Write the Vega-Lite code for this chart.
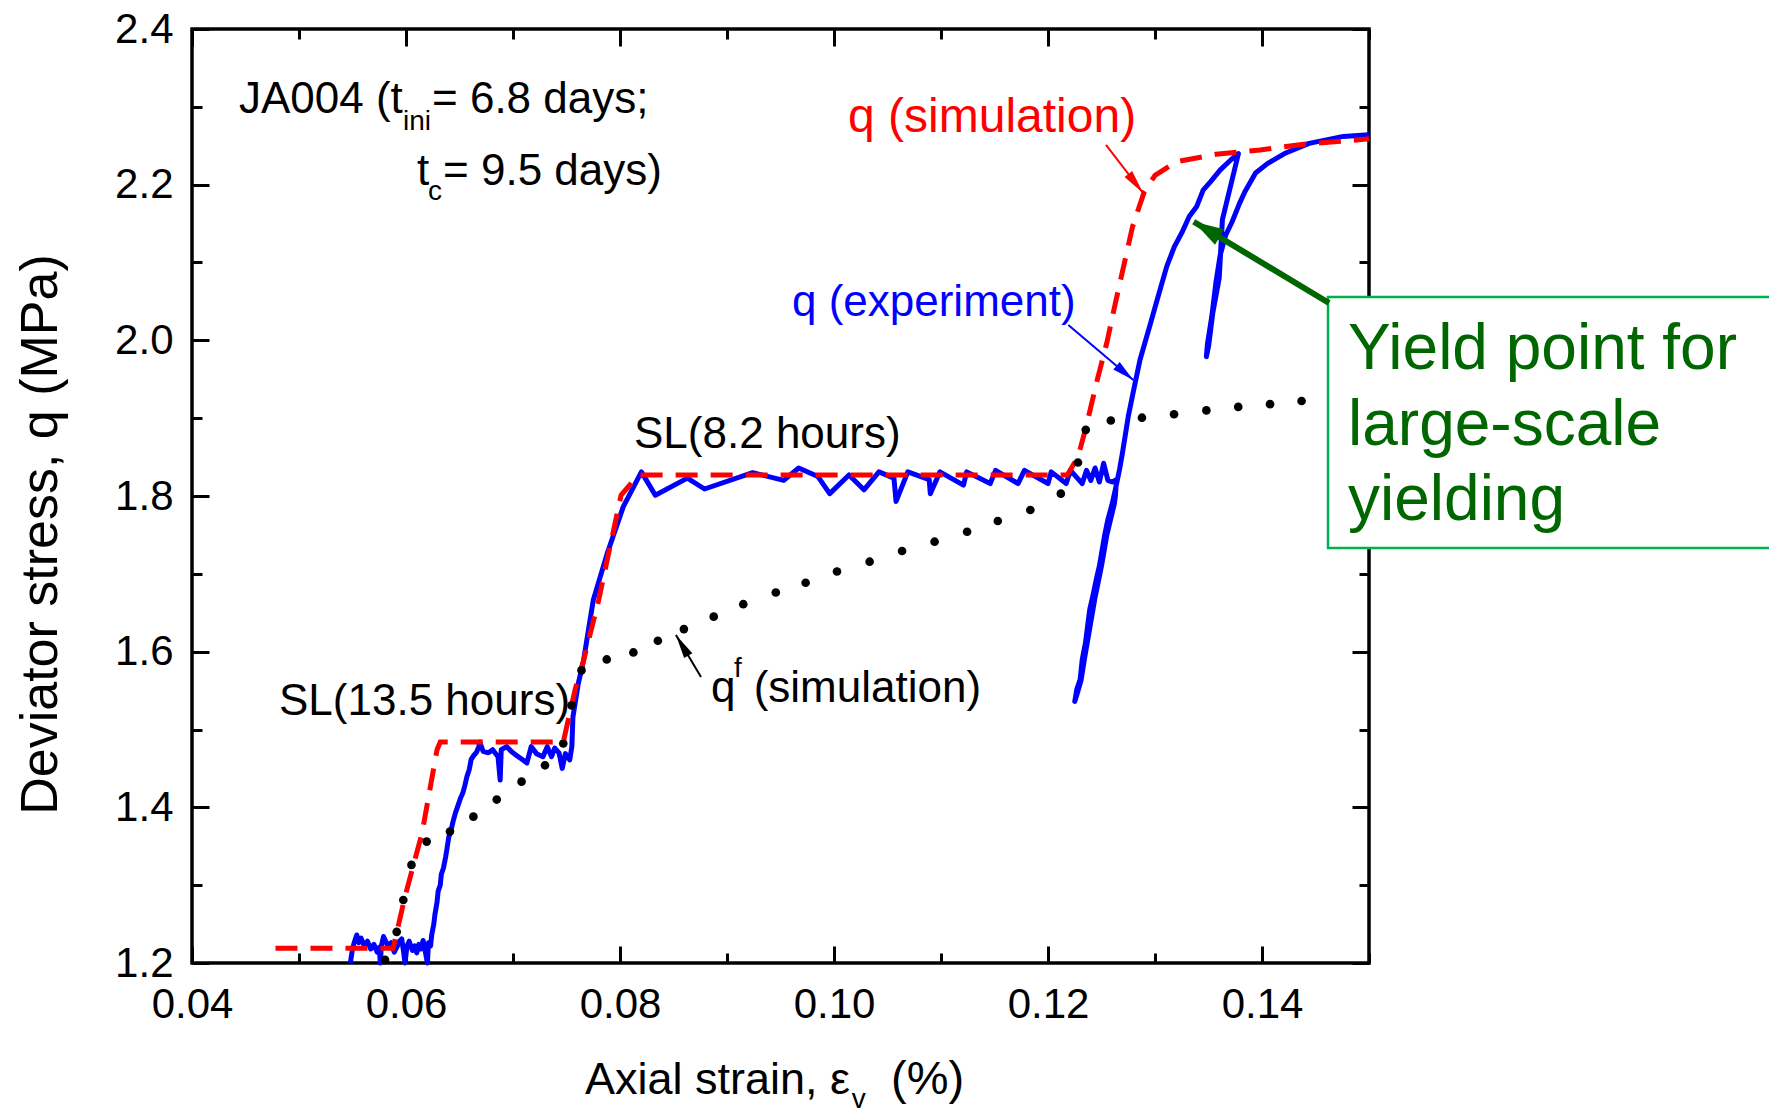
{
  "$schema": "https://vega.github.io/schema/vega-lite/v6.json",
  "width": 1177,
  "height": 934,
  "autosize": {"type": "none"},
  "padding": {"left": 192, "top": 29, "right": 400, "bottom": 153},
  "background": "white",
  "config": {
    "view": {"stroke": "black", "strokeWidth": 3.5},
    "font": "Liberation Sans",
    "text": {"font": "Liberation Sans"},
    "axis": {"labelFont": "Liberation Sans", "titleFont": "Liberation Sans", "grid": false, "domain": false, "tickColor": "black", "labelColor": "black", "titleColor": "black", "tickWidth": 3}
  },
  "datasets": {
    "blue": [
      {"i":1,"x":0.0548,"y":1.200},{"i":2,"x":0.0550,"y":1.218},{"i":3,"x":0.0552,"y":1.228},{"i":4,"x":0.0554,"y":1.236},{"i":5,"x":0.0556,"y":1.226},{"i":6,"x":0.0558,"y":1.232},{"i":7,"x":0.0561,"y":1.222},{"i":8,"x":0.0564,"y":1.228},{"i":9,"x":0.0567,"y":1.218},{"i":10,"x":0.0570,"y":1.224},
      {"i":11,"x":0.0573,"y":1.214},{"i":12,"x":0.0575,"y":1.220},{"i":13,"x":0.0576,"y":1.200},{"i":14,"x":0.0577,"y":1.222},{"i":15,"x":0.0579,"y":1.234},{"i":16,"x":0.0581,"y":1.228},{"i":17,"x":0.0583,"y":1.222},{"i":18,"x":0.0586,"y":1.226},{"i":19,"x":0.0589,"y":1.214},{"i":20,"x":0.0592,"y":1.222},
      {"i":21,"x":0.0594,"y":1.228},{"i":22,"x":0.0596,"y":1.231},{"i":23,"x":0.0598,"y":1.212},{"i":24,"x":0.0599,"y":1.200},{"i":25,"x":0.0601,"y":1.222},{"i":26,"x":0.0603,"y":1.228},{"i":27,"x":0.0606,"y":1.216},{"i":28,"x":0.0608,"y":1.222},{"i":29,"x":0.0610,"y":1.213},{"i":30,"x":0.0612,"y":1.224},
      {"i":31,"x":0.0614,"y":1.218},{"i":32,"x":0.0616,"y":1.229},{"i":33,"x":0.0618,"y":1.215},{"i":34,"x":0.0620,"y":1.200},{"i":35,"x":0.0621,"y":1.226},{"i":36,"x":0.0623,"y":1.222},{"i":37,"x":0.0624,"y":1.236},{"i":38,"x":0.0626,"y":1.250},{"i":39,"x":0.0627,"y":1.262},{"i":40,"x":0.0629,"y":1.278},
      {"i":41,"x":0.0630,"y":1.292},{"i":42,"x":0.0632,"y":1.300},{"i":43,"x":0.0633,"y":1.314},{"i":44,"x":0.0635,"y":1.322},{"i":45,"x":0.0637,"y":1.336},{"i":46,"x":0.0638,"y":1.344},{"i":47,"x":0.0640,"y":1.362},{"i":48,"x":0.0642,"y":1.370},{"i":49,"x":0.0644,"y":1.382},{"i":50,"x":0.0646,"y":1.392},
      {"i":51,"x":0.0648,"y":1.400},{"i":52,"x":0.0651,"y":1.412},{"i":53,"x":0.0653,"y":1.418},{"i":54,"x":0.0655,"y":1.428},{"i":55,"x":0.0657,"y":1.440},{"i":56,"x":0.0659,"y":1.448},{"i":57,"x":0.0661,"y":1.462},{"i":58,"x":0.0663,"y":1.466},{"i":59,"x":0.0666,"y":1.471},{"i":60,"x":0.0668,"y":1.478},
      {"i":61,"x":0.0669,"y":1.484},{"i":62,"x":0.0672,"y":1.472},{"i":63,"x":0.0677,"y":1.470},{"i":64,"x":0.0681,"y":1.474},{"i":65,"x":0.0686,"y":1.465},{"i":66,"x":0.0688,"y":1.435},{"i":67,"x":0.0689,"y":1.474},{"i":68,"x":0.0694,"y":1.478},{"i":69,"x":0.0699,"y":1.471},{"i":70,"x":0.0703,"y":1.467},
      {"i":71,"x":0.0708,"y":1.462},{"i":72,"x":0.0713,"y":1.457},{"i":73,"x":0.0717,"y":1.478},{"i":74,"x":0.0722,"y":1.469},{"i":75,"x":0.0728,"y":1.465},{"i":76,"x":0.0732,"y":1.478},{"i":77,"x":0.0736,"y":1.465},{"i":78,"x":0.0739,"y":1.476},{"i":79,"x":0.0743,"y":1.470},{"i":80,"x":0.0746,"y":1.450},
      {"i":81,"x":0.0749,"y":1.469},{"i":82,"x":0.0753,"y":1.461},{"i":83,"x":0.0755,"y":1.478},{"i":84,"x":0.0756,"y":1.516},{"i":85,"x":0.0761,"y":1.559},{"i":86,"x":0.0766,"y":1.589},{"i":87,"x":0.0771,"y":1.632},{"i":88,"x":0.0775,"y":1.666},{"i":89,"x":0.0788,"y":1.726},{"i":90,"x":0.0803,"y":1.786},
      {"i":91,"x":0.0820,"y":1.831},{"i":92,"x":0.0833,"y":1.801},{"i":93,"x":0.0863,"y":1.823},{"i":94,"x":0.0879,"y":1.809},{"i":95,"x":0.0924,"y":1.830},{"i":96,"x":0.0953,"y":1.820},{"i":97,"x":0.0967,"y":1.836},{"i":98,"x":0.0985,"y":1.825},{"i":99,"x":0.0996,"y":1.803},{"i":100,"x":0.1014,"y":1.827},
      {"i":101,"x":0.1028,"y":1.808},{"i":102,"x":0.1042,"y":1.831},{"i":103,"x":0.1056,"y":1.823},{"i":104,"x":0.1058,"y":1.793},{"i":105,"x":0.1069,"y":1.831},{"i":106,"x":0.1089,"y":1.821},{"i":107,"x":0.1090,"y":1.803},{"i":108,"x":0.1099,"y":1.831},{"i":109,"x":0.1121,"y":1.814},{"i":110,"x":0.1124,"y":1.831},
      {"i":111,"x":0.1146,"y":1.816},{"i":112,"x":0.1151,"y":1.833},{"i":113,"x":0.1172,"y":1.816},{"i":114,"x":0.1178,"y":1.833},{"i":115,"x":0.1200,"y":1.816},{"i":116,"x":0.1203,"y":1.831},{"i":117,"x":0.1217,"y":1.816},{"i":118,"x":0.1221,"y":1.833},{"i":119,"x":0.1232,"y":1.816},{"i":120,"x":0.1236,"y":1.833},
      {"i":121,"x":0.1240,"y":1.820},{"i":122,"x":0.1244,"y":1.836},{"i":123,"x":0.1248,"y":1.818},{"i":124,"x":0.1252,"y":1.842},{"i":125,"x":0.1256,"y":1.820},{"i":126,"x":0.1260,"y":1.818},{"i":127,"x":0.1264,"y":1.821},
      {"i":128,"x":0.1263,"y":1.800},{"i":129,"x":0.1262,"y":1.790},{"i":130,"x":0.1255,"y":1.750},{"i":131,"x":0.1250,"y":1.710},{"i":132,"x":0.1244,"y":1.670},{"i":133,"x":0.1239,"y":1.630},{"i":134,"x":0.1234,"y":1.590},{"i":135,"x":0.1231,"y":1.564},{"i":136,"x":0.1227,"y":1.545},{"i":137,"x":0.1225,"y":1.536},
      {"i":138,"x":0.1227,"y":1.552},{"i":139,"x":0.1230,"y":1.564},{"i":140,"x":0.1232,"y":1.590},{"i":141,"x":0.1235,"y":1.611},{"i":142,"x":0.1237,"y":1.633},{"i":143,"x":0.1239,"y":1.654},{"i":144,"x":0.1242,"y":1.672},{"i":145,"x":0.1245,"y":1.692},{"i":146,"x":0.1248,"y":1.710},{"i":147,"x":0.1250,"y":1.726},
      {"i":148,"x":0.1253,"y":1.750},{"i":149,"x":0.1256,"y":1.770},{"i":150,"x":0.1260,"y":1.790},{"i":151,"x":0.1264,"y":1.815},{"i":152,"x":0.1267,"y":1.835},{"i":153,"x":0.1270,"y":1.859},{"i":154,"x":0.1275,"y":1.902},{"i":155,"x":0.1280,"y":1.936},{"i":156,"x":0.1286,"y":1.975},{"i":157,"x":0.1295,"y":2.018},
      {"i":158,"x":0.1302,"y":2.052},{"i":159,"x":0.1311,"y":2.095},{"i":160,"x":0.1318,"y":2.120},{"i":161,"x":0.1325,"y":2.138},{"i":162,"x":0.1332,"y":2.159},{"i":163,"x":0.1339,"y":2.172},{"i":164,"x":0.1345,"y":2.193},{"i":165,"x":0.1352,"y":2.204},{"i":166,"x":0.1361,"y":2.219},{"i":167,"x":0.1371,"y":2.232},
      {"i":168,"x":0.1378,"y":2.240},{"i":169,"x":0.1363,"y":2.155},{"i":170,"x":0.1360,"y":2.080},{"i":171,"x":0.1354,"y":2.035},{"i":172,"x":0.1350,"y":1.992},{"i":173,"x":0.1348,"y":1.979},{"i":174,"x":0.1349,"y":1.995},{"i":175,"x":0.1353,"y":2.030},{"i":176,"x":0.1357,"y":2.075},{"i":177,"x":0.1361,"y":2.110},
      {"i":178,"x":0.1366,"y":2.135},{"i":179,"x":0.1372,"y":2.152},{"i":180,"x":0.1379,"y":2.176},{"i":181,"x":0.1384,"y":2.191},{"i":182,"x":0.1394,"y":2.215},{"i":183,"x":0.1405,"y":2.227},{"i":184,"x":0.1421,"y":2.240},{"i":185,"x":0.1444,"y":2.253},{"i":186,"x":0.1476,"y":2.262},{"i":187,"x":0.1500,"y":2.264}
    ],
    "red": [
      {"i":1,"x":0.0478,"y":1.219},{"i":2,"x":0.0588,"y":1.219},{"i":3,"x":0.0599,"y":1.285},{"i":4,"x":0.0615,"y":1.367},{"i":5,"x":0.0629,"y":1.474},{"i":6,"x":0.0632,"y":1.484},{"i":7,"x":0.0747,"y":1.484},{"i":8,"x":0.0758,"y":1.551},{"i":9,"x":0.0766,"y":1.589},{"i":10,"x":0.0780,"y":1.666},
      {"i":11,"x":0.0801,"y":1.801},{"i":12,"x":0.0817,"y":1.827},{"i":13,"x":0.1218,"y":1.827},{"i":14,"x":0.1228,"y":1.850},{"i":15,"x":0.1236,"y":1.891},{"i":16,"x":0.1246,"y":1.949},{"i":17,"x":0.1255,"y":1.997},{"i":18,"x":0.1263,"y":2.048},{"i":19,"x":0.1279,"y":2.146},{"i":20,"x":0.1290,"y":2.191},
      {"i":21,"x":0.1300,"y":2.212},{"i":22,"x":0.1320,"y":2.2295},{"i":23,"x":0.1357,"y":2.239},{"i":24,"x":0.1398,"y":2.2445},{"i":25,"x":0.1439,"y":2.252},{"i":26,"x":0.1485,"y":2.257},{"i":27,"x":0.1500,"y":2.259}
    ],
    "dots": [
      {"x":0.05804,"y":1.204},{"x":0.05913,"y":1.240},{"x":0.05975,"y":1.281},{"x":0.06051,"y":1.326},{"x":0.06193,"y":1.356},{"x":0.06411,"y":1.369},{"x":0.0663,"y":1.388},{"x":0.06848,"y":1.410},{"x":0.0708,"y":1.433},{"x":0.07299,"y":1.454},
      {"x":0.0747,"y":1.482},{"x":0.07547,"y":1.531},{"x":0.0764,"y":1.576},{"x":0.07876,"y":1.590},{"x":0.08125,"y":1.599},{"x":0.08354,"y":1.614},{"x":0.08597,"y":1.629},{"x":0.08876,"y":1.645},{"x":0.09152,"y":1.661},{"x":0.09456,"y":1.676},
      {"x":0.09735,"y":1.6886},{"x":0.10028,"y":1.703},{"x":0.10333,"y":1.7156},{"x":0.10636,"y":1.7293},{"x":0.1094,"y":1.7413},{"x":0.11244,"y":1.7541},{"x":0.11531,"y":1.7679},{"x":0.11835,"y":1.782},{"x":0.1212,"y":1.803},{"x":0.1228,"y":1.843},
      {"x":0.12353,"y":1.885},{"x":0.12587,"y":1.897},{"x":0.12878,"y":1.9006},{"x":0.13178,"y":1.905},{"x":0.1348,"y":1.910},{"x":0.13778,"y":1.9145},{"x":0.14075,"y":1.918},{"x":0.1437,"y":1.922}
    ],
    "box": [{"x":0.14617,"x2":0.19,"y":2.0557,"y2":1.7332}],
    "arrows": [
      {"a":"sim","x":0.12542,"y":2.2510,"x2":0.12888,"y2":2.1893},
      {"a":"exp","x":0.1219,"y":2.0197,"x2":0.12797,"y2":1.949},
      {"a":"qf","x":0.08757,"y":1.5674,"x2":0.08523,"y2":1.6214},
      {"a":"yield","x":0.14626,"y":2.048,"x2":0.13362,"y2":2.1524}
    ],
    "texts": [
      {"k":"main","t":"JA004 (t","x":0.04439,"y":2.2921},
      {"k":"main","t":"= 6.8 days;","x":0.06243,"y":2.2921},
      {"k":"main","t":"t","x":0.06103,"y":2.1996},
      {"k":"main","t":"= 9.5 days)","x":0.06346,"y":2.1996},
      {"k":"main","t":"SL(8.2 hours)","x":0.08131,"y":1.8617},
      {"k":"main","t":"SL(13.5 hours)","x":0.04813,"y":1.5186},
      {"k":"main","t":"q","x":0.08850,"y":1.5353},
      {"k":"main","t":"(simulation)","x":0.09249,"y":1.5353},
      {"k":"sub","t":"ini","x":0.05972,"y":2.2702},
      {"k":"sub","t":"c","x":0.06206,"y":2.1803},
      {"k":"sub","t":"f","x":0.09065,"y":1.5674},
      {"k":"red","t":"q (simulation)","x":0.10131,"y":2.2677},
      {"k":"blue","t":"q (experiment)","x":0.09607,"y":2.0313},
      {"k":"green","t":"Yield point for","x":0.14804,"y":1.9632},
      {"k":"green","t":"large-scale","x":0.14804,"y":1.8655},
      {"k":"green","t":"yielding","x":0.14804,"y":1.7691},
      {"k":"xt","t":"Axial strain, ε","x":0.10150,"y":1.0316},
      {"k":"xsub","t":"v","x":0.10165,"y":1.0135},
      {"k":"xt2","t":"(%)","x":0.10533,"y":1.0316}
    ]
  },
  "resolve": {"axis": {"x": "independent", "y": "independent"}},
  "layer": [
    {
      "data": {"name": "blue"},
      "mark": {"type": "line", "color": "#0000ff", "strokeWidth": 5, "strokeJoin": "round"},
      "encoding": {
        "x": {"field": "x", "type": "quantitative", "scale": {"domain": [0.04, 0.15], "nice": false, "zero": false},
              "axis": {"orient": "bottom", "values": [0.04, 0.06, 0.08, 0.10, 0.12, 0.14], "format": ".2f", "ticks": false, "tickSize": 0, "labelFontSize": 42, "labelPadding": 21, "labelFlush": false, "labelOverlap": false, "title": null}},
        "y": {"field": "y", "type": "quantitative", "scale": {"domain": [1.2, 2.4], "nice": false, "zero": false},
              "axis": {"orient": "left", "values": [1.2, 1.4, 1.6, 1.8, 2.0, 2.2, 2.4], "format": ".1f", "ticks": false, "tickSize": 0, "labelFontSize": 42, "labelPadding": 19, "labelFlush": false, "labelOverlap": false,
                       "title": "Deviator stress, q (MPa)", "titleFontSize": 52, "titleFontWeight": "normal", "titleAngle": 270, "titleX": -136, "titleY": 505, "titleAlign": "center", "titleBaseline": "alphabetic"}},
        "order": {"field": "i", "type": "quantitative"}
      }
    },
    {
      "data": {"name": "red"},
      "mark": {"type": "line", "color": "#ff0000", "strokeWidth": 5, "strokeDash": [22, 13]},
      "encoding": {
        "x": {"field": "x", "type": "quantitative", "scale": {"domain": [0.04, 0.15], "nice": false, "zero": false},
              "axis": {"orient": "bottom", "values": [0.04, 0.06, 0.08, 0.10, 0.12, 0.14], "labels": false, "ticks": true, "tickSize": -17, "title": null}},
        "y": {"field": "y", "type": "quantitative", "scale": {"domain": [1.2, 2.4], "nice": false, "zero": false},
              "axis": {"orient": "left", "values": [1.2, 1.4, 1.6, 1.8, 2.0, 2.2, 2.4], "labels": false, "ticks": true, "tickSize": -17, "title": null}},
        "order": {"field": "i", "type": "quantitative"}
      }
    },
    {
      "data": {"name": "dots"},
      "mark": {"type": "point", "shape": "circle", "filled": true, "color": "black", "size": 75, "opacity": 1, "strokeWidth": 0},
      "encoding": {
        "x": {"field": "x", "type": "quantitative", "scale": {"domain": [0.04, 0.15], "nice": false, "zero": false},
              "axis": {"orient": "bottom", "values": [0.05, 0.07, 0.09, 0.11, 0.13, 0.15], "labels": false, "ticks": true, "tickSize": -10, "title": null}},
        "y": {"field": "y", "type": "quantitative", "scale": {"domain": [1.2, 2.4], "nice": false, "zero": false},
              "axis": {"orient": "left", "values": [1.3, 1.5, 1.7, 1.9, 2.1, 2.3], "labels": false, "ticks": true, "tickSize": -10, "title": null}}
      }
    },
    {
      "data": {"name": "texts"},
      "transform": [{"filter": "datum.k == 'main'"}],
      "mark": {"type": "text", "align": "left", "baseline": "alphabetic", "fontSize": 44, "color": "black"},
      "encoding": {
        "x": {"field": "x", "type": "quantitative", "scale": {"domain": [0.04, 0.15], "nice": false, "zero": false},
              "axis": {"orient": "top", "values": [0.04, 0.06, 0.08, 0.10, 0.12, 0.14], "labels": false, "ticks": true, "tickSize": -17, "title": null}},
        "y": {"field": "y", "type": "quantitative", "scale": {"domain": [1.2, 2.4], "nice": false, "zero": false},
              "axis": {"orient": "right", "values": [1.2, 1.4, 1.6, 1.8, 2.0, 2.2, 2.4], "labels": false, "ticks": true, "tickSize": -17, "title": null}},
        "text": {"field": "t"}
      }
    },
    {
      "data": {"name": "texts"},
      "transform": [{"filter": "datum.k == 'sub'"}],
      "mark": {"type": "text", "align": "left", "baseline": "alphabetic", "fontSize": 28, "color": "black"},
      "encoding": {
        "x": {"field": "x", "type": "quantitative", "scale": {"domain": [0.04, 0.15], "nice": false, "zero": false},
              "axis": {"orient": "top", "values": [0.05, 0.07, 0.09, 0.11, 0.13, 0.15], "labels": false, "ticks": true, "tickSize": -10, "title": null}},
        "y": {"field": "y", "type": "quantitative", "scale": {"domain": [1.2, 2.4], "nice": false, "zero": false},
              "axis": {"orient": "right", "values": [1.3, 1.5, 1.7, 1.9, 2.1, 2.3], "labels": false, "ticks": true, "tickSize": -10, "title": null}},
        "text": {"field": "t"}
      }
    },
    {
      "data": {"name": "texts"},
      "transform": [{"filter": "datum.k == 'red'"}],
      "mark": {"type": "text", "align": "left", "baseline": "alphabetic", "fontSize": 48, "color": "#ff0000"},
      "encoding": {
        "x": {"field": "x", "type": "quantitative", "scale": {"domain": [0.04, 0.15], "nice": false, "zero": false}, "axis": null},
        "y": {"field": "y", "type": "quantitative", "scale": {"domain": [1.2, 2.4], "nice": false, "zero": false}, "axis": null},
        "text": {"field": "t"}
      }
    },
    {
      "data": {"name": "texts"},
      "transform": [{"filter": "datum.k == 'blue'"}],
      "mark": {"type": "text", "align": "left", "baseline": "alphabetic", "fontSize": 44, "color": "#0000ff"},
      "encoding": {
        "x": {"field": "x", "type": "quantitative", "scale": {"domain": [0.04, 0.15], "nice": false, "zero": false}, "axis": null},
        "y": {"field": "y", "type": "quantitative", "scale": {"domain": [1.2, 2.4], "nice": false, "zero": false}, "axis": null},
        "text": {"field": "t"}
      }
    },
    {
      "data": {"name": "texts"},
      "transform": [{"filter": "datum.k == 'xt'"}],
      "mark": {"type": "text", "align": "right", "baseline": "alphabetic", "fontSize": 45, "color": "black"},
      "encoding": {
        "x": {"field": "x", "type": "quantitative", "scale": {"domain": [0.04, 0.15], "nice": false, "zero": false}, "axis": null},
        "y": {"field": "y", "type": "quantitative", "scale": {"domain": [1.2, 2.4], "nice": false, "zero": false}, "axis": null},
        "text": {"field": "t"}
      }
    },
    {
      "data": {"name": "texts"},
      "transform": [{"filter": "datum.k == 'xsub'"}],
      "mark": {"type": "text", "align": "left", "baseline": "alphabetic", "fontSize": 28, "color": "black"},
      "encoding": {
        "x": {"field": "x", "type": "quantitative", "scale": {"domain": [0.04, 0.15], "nice": false, "zero": false}, "axis": null},
        "y": {"field": "y", "type": "quantitative", "scale": {"domain": [1.2, 2.4], "nice": false, "zero": false}, "axis": null},
        "text": {"field": "t"}
      }
    },
    {
      "data": {"name": "texts"},
      "transform": [{"filter": "datum.k == 'xt2'"}],
      "mark": {"type": "text", "align": "left", "baseline": "alphabetic", "fontSize": 47, "color": "black"},
      "encoding": {
        "x": {"field": "x", "type": "quantitative", "scale": {"domain": [0.04, 0.15], "nice": false, "zero": false}, "axis": null},
        "y": {"field": "y", "type": "quantitative", "scale": {"domain": [1.2, 2.4], "nice": false, "zero": false}, "axis": null},
        "text": {"field": "t"}
      }
    },
    {
      "data": {"name": "arrows"},
      "transform": [{"filter": "datum.a == 'sim'"}],
      "mark": {"type": "rule", "color": "#ff0000", "strokeWidth": 2},
      "encoding": {
        "x": {"field": "x", "type": "quantitative", "scale": {"domain": [0.04, 0.15], "nice": false, "zero": false}, "axis": null},
        "y": {"field": "y", "type": "quantitative", "scale": {"domain": [1.2, 2.4], "nice": false, "zero": false}, "axis": null},
        "x2": {"field": "x2"}, "y2": {"field": "y2"}
      }
    },
    {
      "data": {"name": "arrows"},
      "transform": [{"filter": "datum.a == 'sim'"}],
      "mark": {"type": "point", "shape": "M0,0L0.4,2L-0.4,2Z", "filled": true, "size": 576, "angle": 142.4, "color": "#ff0000", "opacity": 1, "strokeWidth": 0},
      "encoding": {
        "x": {"field": "x2", "type": "quantitative", "scale": {"domain": [0.04, 0.15], "nice": false, "zero": false}, "axis": null},
        "y": {"field": "y2", "type": "quantitative", "scale": {"domain": [1.2, 2.4], "nice": false, "zero": false}, "axis": null}
      }
    },
    {
      "data": {"name": "arrows"},
      "transform": [{"filter": "datum.a == 'exp'"}],
      "mark": {"type": "rule", "color": "#0000ff", "strokeWidth": 2},
      "encoding": {
        "x": {"field": "x", "type": "quantitative", "scale": {"domain": [0.04, 0.15], "nice": false, "zero": false}, "axis": null},
        "y": {"field": "y", "type": "quantitative", "scale": {"domain": [1.2, 2.4], "nice": false, "zero": false}, "axis": null},
        "x2": {"field": "x2"}, "y2": {"field": "y2"}
      }
    },
    {
      "data": {"name": "arrows"},
      "transform": [{"filter": "datum.a == 'exp'"}],
      "mark": {"type": "point", "shape": "M0,0L0.45,2L-0.45,2Z", "filled": true, "size": 484, "angle": 130.2, "color": "#0000ff", "opacity": 1, "strokeWidth": 0},
      "encoding": {
        "x": {"field": "x2", "type": "quantitative", "scale": {"domain": [0.04, 0.15], "nice": false, "zero": false}, "axis": null},
        "y": {"field": "y2", "type": "quantitative", "scale": {"domain": [1.2, 2.4], "nice": false, "zero": false}, "axis": null}
      }
    },
    {
      "data": {"name": "arrows"},
      "transform": [{"filter": "datum.a == 'qf'"}],
      "mark": {"type": "rule", "color": "black", "strokeWidth": 2},
      "encoding": {
        "x": {"field": "x", "type": "quantitative", "scale": {"domain": [0.04, 0.15], "nice": false, "zero": false}, "axis": null},
        "y": {"field": "y", "type": "quantitative", "scale": {"domain": [1.2, 2.4], "nice": false, "zero": false}, "axis": null},
        "x2": {"field": "x2"}, "y2": {"field": "y2"}
      }
    },
    {
      "data": {"name": "arrows"},
      "transform": [{"filter": "datum.a == 'qf'"}],
      "mark": {"type": "point", "shape": "M0,0L0.4,2L-0.4,2Z", "filled": true, "size": 576, "angle": 329.2, "color": "black", "opacity": 1, "strokeWidth": 0},
      "encoding": {
        "x": {"field": "x2", "type": "quantitative", "scale": {"domain": [0.04, 0.15], "nice": false, "zero": false}, "axis": null},
        "y": {"field": "y2", "type": "quantitative", "scale": {"domain": [1.2, 2.4], "nice": false, "zero": false}, "axis": null}
      }
    },
    {
      "data": {"name": "box"},
      "mark": {"type": "rect", "fill": "white", "stroke": "#00b050", "strokeWidth": 2.5},
      "encoding": {
        "x": {"field": "x", "type": "quantitative", "scale": {"domain": [0.04, 0.15], "nice": false, "zero": false}, "axis": null},
        "y": {"field": "y", "type": "quantitative", "scale": {"domain": [1.2, 2.4], "nice": false, "zero": false}, "axis": null},
        "x2": {"field": "x2"}, "y2": {"field": "y2"}
      }
    },
    {
      "data": {"name": "texts"},
      "transform": [{"filter": "datum.k == 'green'"}],
      "mark": {"type": "text", "align": "left", "baseline": "alphabetic", "fontSize": 64, "color": "#006600"},
      "encoding": {
        "x": {"field": "x", "type": "quantitative", "scale": {"domain": [0.04, 0.15], "nice": false, "zero": false}, "axis": null},
        "y": {"field": "y", "type": "quantitative", "scale": {"domain": [1.2, 2.4], "nice": false, "zero": false}, "axis": null},
        "text": {"field": "t"}
      }
    },
    {
      "data": {"name": "arrows"},
      "transform": [{"filter": "datum.a == 'yield'"}],
      "mark": {"type": "rule", "color": "#006600", "strokeWidth": 6},
      "encoding": {
        "x": {"field": "x", "type": "quantitative", "scale": {"domain": [0.04, 0.15], "nice": false, "zero": false}, "axis": null},
        "y": {"field": "y", "type": "quantitative", "scale": {"domain": [1.2, 2.4], "nice": false, "zero": false}, "axis": null},
        "x2": {"field": "x2"}, "y2": {"field": "y2"}
      }
    },
    {
      "data": {"name": "arrows"},
      "transform": [{"filter": "datum.a == 'yield'"}],
      "mark": {"type": "point", "shape": "M0,0L0.6,2L-0.6,2Z", "filled": true, "size": 900, "angle": 300.5, "color": "#006600", "opacity": 1, "strokeWidth": 0},
      "encoding": {
        "x": {"field": "x2", "type": "quantitative", "scale": {"domain": [0.04, 0.15], "nice": false, "zero": false}, "axis": null},
        "y": {"field": "y2", "type": "quantitative", "scale": {"domain": [1.2, 2.4], "nice": false, "zero": false}, "axis": null}
      }
    }
  ]
}
